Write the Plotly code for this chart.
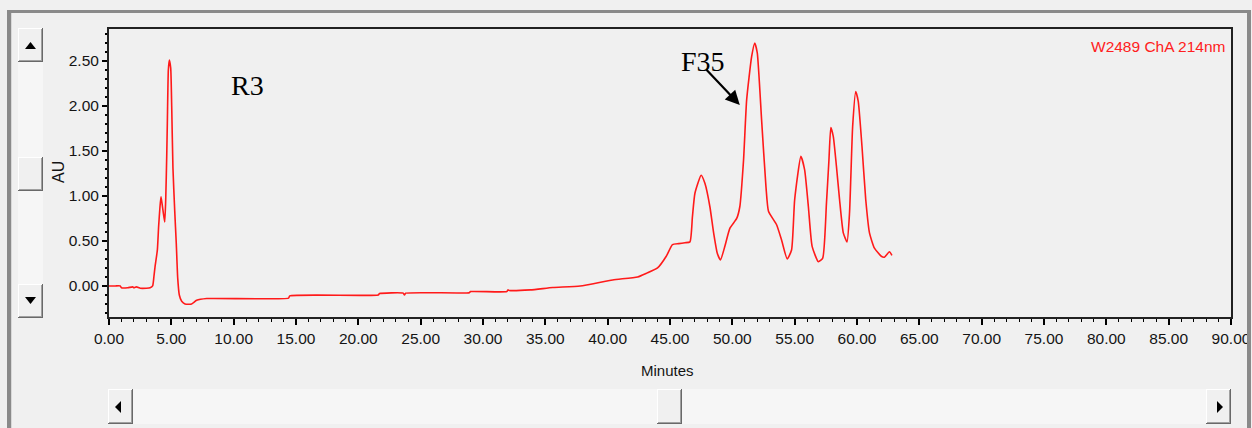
import plotly.graph_objects as go

# ---- data ----
minutes = [0.0, 0.5, 0.9, 1.0, 1.5, 1.9, 2.0, 2.2, 2.4, 2.5, 3.0, 3.3, 3.5, 3.6, 3.69,
           3.88, 3.98, 4.09, 4.17, 4.25, 4.36, 4.47, 4.55, 4.63, 4.68, 4.76, 4.84, 4.95,
           5.03, 5.13, 5.27, 5.40, 5.51, 5.64, 5.83, 6.1, 6.63, 7.03, 7.84, 14.4, 14.5,
           21.6, 21.7, 23.6, 23.7, 23.8, 28.9, 29.0, 31.9, 32.0, 32.1, 33.8, 35.6, 37.8,
           40.4, 42.4, 43.1, 44.0, 44.7, 45.2, 45.7, 46.2, 46.6, 46.8, 47.0, 47.5, 47.8,
           48.2, 48.5, 48.8, 49.05, 49.4, 49.8, 50.35, 50.6, 50.9, 51.15, 51.55, 51.8,
           52.0, 52.35, 52.7, 52.9, 53.55, 53.95, 54.4, 54.75, 55.0, 55.5, 55.8, 56.1,
           56.4, 56.9, 57.25, 57.55, 57.75, 57.9, 58.1, 58.35, 58.6, 58.9, 59.2, 59.4,
           59.65, 59.9, 60.1, 60.4, 60.7, 61.0, 61.4, 61.95, 62.2, 62.6, 62.8]
au = [0.0, 0.0, 0.0, -0.02, -0.02, -0.01, -0.02, -0.01, -0.02, -0.025, -0.025, -0.02, 0.0,
      0.10, 0.21, 0.40, 0.66, 0.88, 0.99, 0.92, 0.81, 0.71, 0.96, 1.44, 1.81, 2.40, 2.51,
      2.42, 1.99, 1.31, 0.84, 0.46, 0.09, -0.10, -0.17, -0.20, -0.20, -0.16, -0.14,
      -0.135, -0.11, -0.10, -0.085, -0.08, -0.10, -0.08, -0.075, -0.063, -0.063, -0.044,
      -0.05, -0.044, -0.018, 0.0, 0.067, 0.10, 0.14, 0.20, 0.33, 0.46, 0.47, 0.48, 0.49,
      0.77, 1.03, 1.23, 1.14, 0.88, 0.59, 0.36, 0.29, 0.44, 0.64, 0.75, 0.88, 1.40, 2.07,
      2.55, 2.70, 2.59, 1.84, 1.10, 0.83, 0.68, 0.51, 0.30, 0.40, 0.96, 1.44, 1.29, 0.88,
      0.44, 0.27, 0.31, 0.92, 1.40, 1.76, 1.66, 1.33, 0.96, 0.59, 0.49, 0.81, 1.77, 2.16,
      2.05, 1.55, 0.96, 0.59, 0.42, 0.33, 0.32, 0.38, 0.34]

x_title = "Minutes"
y_title = "AU"
channel_label = "W2489 ChA 214nm"
label_r3 = "R3"
label_f35 = "F35"

W, H = 1252, 428
L, R, T, B = 109, 1231, 29, 317   # plot area in pixels


def px(x):
    return (x - L) / (R - L)


def py(y):
    return (B - y) / (B - T)


SANS = "Liberation Sans, Arial, sans-serif"
TICKFONT = dict(family=SANS, size=15.5, color="#141414")
SERIF = dict(family="Liberation Serif, Times New Roman, serif", size=28, color="#000000")

fig = go.Figure()
fig.add_trace(go.Scatter(x=minutes, y=au, mode="lines",
                         line=dict(color="#ff1a1a", width=1.6, shape="spline",
                                   smoothing=0.5),
                         showlegend=False, hoverinfo="skip"))

shapes = []


def rect(x0, y0, x1, y1, fill):
    shapes.append(dict(type="rect", xref="paper", yref="paper",
                       x0=px(x0), x1=px(x1), y0=py(y1), y1=py(y0), fillcolor=fill,
                       line=dict(width=0), layer="above"))


def button(x0, y0, x1, y1):
    rect(x0, y0, x1, y1, "#696969")
    rect(x0, y0, x1 - 1, y1 - 1, "#ffffff")
    rect(x0 + 1, y0 + 1, x1 - 1, y1 - 1, "#a0a0a0")
    rect(x0 + 1, y0 + 1, x1 - 2, y1 - 2, "#f0f0f0")


def tri(points):
    p = "M " + " L ".join(f"{px(a)},{py(b)}" for a, b in points) + " Z"
    shapes.append(dict(type="path", xref="paper", yref="paper", path=p,
                       fillcolor="#000000", line=dict(width=0), layer="above"))


# outer window frame
rect(7, 10, 1251, 13, "#8a8a8a")
rect(7, 10, 11, 428, "#8a8a8a")
rect(1247, 10, 1251, 428, "#8a8a8a")
rect(11, 13, 12, 428, "#d8d8d8")

# vertical scrollbar
rect(18, 28, 43, 318, "#f6f6f6")
button(18, 28, 43, 62)
button(18, 157, 43, 191)
button(18, 284, 43, 318)
tri([(25, 49), (36, 49), (30.5, 42)])
tri([(25, 297), (36, 297), (30.5, 304)])

# horizontal scrollbar
rect(108, 389, 1231, 424, "#f6f6f6")
button(108, 389, 133, 424)
button(657, 389, 682, 424)
button(1206, 389, 1231, 424)
tri([(121, 401), (121, 413), (115, 407)])
tri([(1217, 401), (1217, 413), (1223, 407)])

annotations = [
    dict(text=channel_label, xref="paper", yref="paper", x=px(1227), y=py(46),
         xanchor="right", yanchor="middle", showarrow=False,
         font=dict(family=SANS, size=15.5, color="#ff2020")),
    dict(text=x_title, xref="paper", yref="paper", x=px(667), y=py(370),
         xanchor="center", yanchor="middle", showarrow=False,
         font=dict(family=SANS, size=15, color="#141414")),
    dict(text=y_title, xref="paper", yref="paper", x=px(58), y=py(172),
         xanchor="center", yanchor="middle", showarrow=False, textangle=-90,
         font=dict(family=SANS, size=16, color="#141414")),
    dict(text=label_r3, xref="paper", yref="paper", x=px(229), y=py(85),
         xanchor="left", yanchor="middle", showarrow=False, font=SERIF),
    dict(text=label_f35, xref="paper", yref="paper", x=px(679), y=py(61),
         xanchor="left", yanchor="middle", showarrow=False, font=SERIF),
    dict(text="", x=50.6, y=2.01, xref="x", yref="y", showarrow=True,
         ax=-35, ay=-37, arrowhead=2, arrowsize=1.3, arrowwidth=2.2,
         arrowcolor="#000000"),
]

fig.update_layout(
    width=W, height=H, autosize=False,
    margin=dict(l=L, r=W - R, t=T, b=H - B, pad=0, autoexpand=False),
    paper_bgcolor="#f0f0f0", plot_bgcolor="#f0f0f0",
    shapes=shapes, annotations=annotations, showlegend=False,
    xaxis=dict(range=[0, 90], tick0=0, dtick=5, tickformat=".2f", automargin=False,
               ticks="outside", ticklen=6, tickwidth=1.5, tickcolor="#000000",
               showline=True, linecolor="#222222", linewidth=2, mirror=True,
               showgrid=False, zeroline=False, tickfont=TICKFONT,
               minor=dict(dtick=1, ticks="outside", ticklen=3, tickwidth=1.2,
                          tickcolor="#000000", showgrid=False)),
    yaxis=dict(range=[-0.345, 2.855], tick0=0, dtick=0.5, tickformat=".2f",
               automargin=False,
               ticks="outside", ticklen=5, tickwidth=1.5, tickcolor="#000000",
               showline=True, linecolor="#222222", linewidth=2, mirror=True,
               showgrid=False, zeroline=False, tickfont=TICKFONT,
               minor=dict(dtick=0.1, ticks="outside", ticklen=2, tickwidth=1.5,
                          tickcolor="#000000", showgrid=False)),
)

fig.write_html("out.html",
               config={"displayModeBar": False},
               post_script="document.body.style.margin='0';"
                           "document.body.style.overflow='hidden';")
